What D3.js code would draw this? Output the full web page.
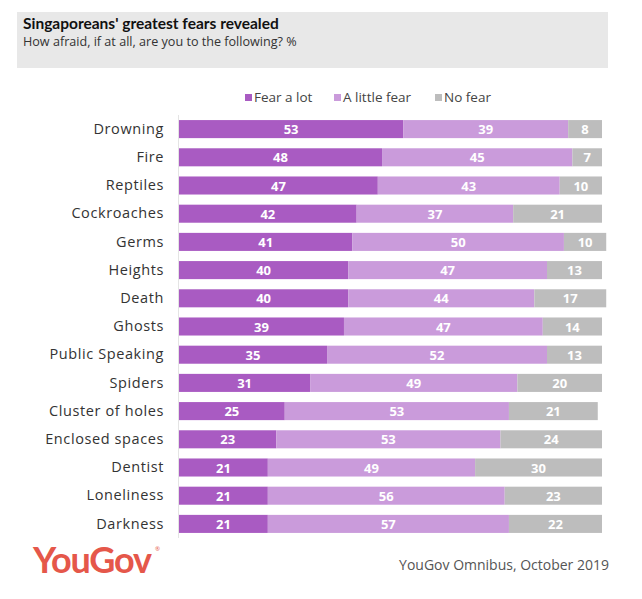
<!DOCTYPE html>
<html><head><meta charset="utf-8">
<script src="https://cdn.jsdelivr.net/npm/d3@7"></script>
<style>body{margin:0;background:#fff;}svg{display:block;font-family:"Open Sans",Lato,sans-serif;}</style>
</head><body><svg id="c" width="642" height="599"></svg>
<script>
const categories = ["Drowning","Fire","Reptiles","Cockroaches","Germs","Heights","Death","Ghosts","Public Speaking","Spiders","Cluster of holes","Enclosed spaces","Dentist","Loneliness","Darkness"];
const fearALot   = [53,48,47,42,41,40,40,39,35,31,25,23,21,21,21];
const littleFear = [39,45,43,37,50,47,44,47,52,49,53,53,49,56,57];
const noFear     = [8,7,10,21,10,13,17,14,13,20,21,24,30,23,22];
const seriesNames = ["Fear a lot","A little fear","No fear"];
const colors = ["#a95bc2","#ca9bdb","#bdbdbd"];

const svg = d3.select("#c");
// header
svg.append("rect").attr("x",17).attr("y",12).attr("width",591).attr("height",56).attr("fill","#e8e8e8");
svg.append("text").attr("x",23).attr("y",29).attr("font-size",15.5).attr("font-weight","bold").attr("fill","#111").attr("font-family","Lato,sans-serif").text("Singaporeans' greatest fears revealed");
svg.append("text").attr("x",23).attr("y",46).attr("font-size",12.6).attr("fill","#333").text("How afraid, if at all, are you to the following? %");

const x = d3.scaleLinear().domain([0,100]).range([179,602]);
const y = d3.scaleBand().domain(categories).range([115,538]).paddingInner(0.36).paddingOuter(0.18);

const data = categories.map((c,i)=>({cat:c, v:[fearALot[i],littleFear[i],noFear[i]]}));
const stack = d3.stack().keys([0,1,2]).value((d,k)=>d.v[k])(data);

svg.append("line").attr("x1",178.5).attr("x2",178.5).attr("y1",115).attr("y2",538).attr("stroke","#e4e4e4");

stack.forEach((s,k)=>{
  const g = svg.append("g");
  g.selectAll("rect").data(s).join("rect")
    .attr("x",d=>x(d[0])).attr("width",d=>x(d[1])-x(d[0]))
    .attr("y",d=>y(d.data.cat)).attr("height",y.bandwidth()).attr("fill",colors[k]);
  g.selectAll("text").data(s).join("text")
    .attr("x",d=>(x(d[0])+x(d[1]))/2).attr("y",d=>y(d.data.cat)+y.bandwidth()/2+5)
    .attr("text-anchor","middle").attr("font-size",13).attr("font-weight","bold").attr("fill","#fff")
    .text(d=>d.data.v[k]);
});

const yAxis = d3.axisLeft(y).tickSize(0).tickPadding(15);
const ag = svg.append("g").attr("transform","translate(179,0)").call(yAxis);
ag.select(".domain").remove();
ag.selectAll("text").attr("font-size",14.5).attr("letter-spacing",0.6).attr("fill","#333").attr("font-family","'Open Sans',sans-serif");

// legend
const legX = [245,334,435];
seriesNames.forEach((n,i)=>{
  svg.append("rect").attr("x",legX[i]).attr("y",94).attr("width",7).attr("height",7).attr("fill",colors[i]);
  svg.append("text").attr("x",legX[i]+9).attr("y",102).attr("font-size",13.5).attr("fill","#444").text(n);
});

// footer
svg.append("text").attr("x",33).attr("y",573).attr("font-size",36).attr("font-weight","bold").attr("fill","#e5574a").attr("letter-spacing",-1.2).attr("font-family","Lato,sans-serif").text("YouGov");
svg.append("text").attr("x",155).attr("y",551).attr("font-size",6).attr("fill","#e5574a").text("®");
svg.append("text").attr("x",609).attr("y",570).attr("text-anchor","end").attr("font-size",14).attr("fill","#555").text("YouGov Omnibus, October 2019");
</script></body></html>
